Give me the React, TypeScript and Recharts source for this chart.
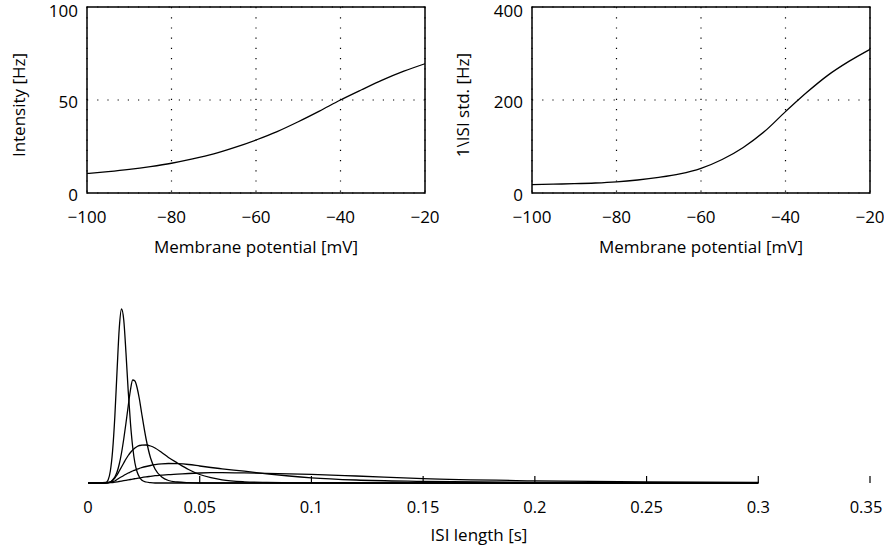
import { LineChart, Line, XAxis, YAxis, CartesianGrid, ReferenceArea, Label } from "recharts";

const FONT = "'Open Sans', sans-serif";

// membrane potential sweep [mV]
const potential = [-100, -95, -90, -85, -80, -75, -70, -65, -60, -55, -50, -45, -40, -35, -30, -25, -20];
const intensity = [10.5, 11.5, 12.7, 14.2, 16, 18.3, 21, 24.5, 28.5, 33, 38.3, 44, 50, 55.5, 60.8, 65.5, 69.5];
const isiStd = [18, 19, 20, 21.5, 24, 28, 33.5, 41, 53, 72, 98, 132, 175, 216, 253, 283, 309];

const potTicks = [-100, -80, -60, -40, -20];
const intensityTicks = [0, 50, 100];
const stdTicks = [0, 200, 400];

// ISI densities
const isiTime = [0, 0.005, 0.008, 0.009, 0.01, 0.011, 0.012, 0.013, 0.014, 0.015, 0.016, 0.017, 0.018, 0.019, 0.02, 0.021, 0.022, 0.023, 0.024, 0.026, 0.028, 0.03, 0.033, 0.036, 0.04, 0.045, 0.05, 0.055, 0.06, 0.07, 0.08, 0.09, 0.1, 0.12, 0.15, 0.2, 0.25, 0.3];
const isiA = [0, 0, 0.5, 3, 12, 32, 66, 112, 155, 174, 163, 130, 92, 60, 36, 20, 11, 6, 3, 1, 0.3, 0, 0, 0, 0, 0, 0, 0, 0, 0, 0, 0, 0, 0, 0, 0, 0, 0];
const isiB = [0, 0, 0, 0.3, 1, 3, 6, 11, 19, 30, 44, 60, 77, 93, 103, 102, 95, 84, 70, 44, 25, 14, 6, 2.5, 1, 0.3, 0, 0, 0, 0, 0, 0, 0, 0, 0, 0, 0, 0];
const isiC = [0, 0, 0.2, 0.5, 1, 2.5, 5, 8, 12, 16, 20, 24, 27.5, 30.5, 33, 35, 36.5, 37.5, 37.8, 38, 37, 35, 30.5, 25.5, 20, 13.5, 8.5, 5.3, 3.2, 1.2, 0.5, 0.2, 0.1, 0, 0, 0, 0, 0];
const isiD = [0, 0, 0.2, 0.5, 1, 1.5, 2, 3.5, 5, 6.2, 7.5, 8.8, 10, 11, 12, 12.9, 13.8, 14.6, 15.3, 16.5, 17.5, 18.3, 19.1, 19.5, 19.3, 18.5, 17, 15.5, 14.2, 11.8, 9.2, 7, 5.2, 3, 1.6, 0.5, 0.15, 0.05];
const isiE = [0, 0, 0.1, 0.2, 0.3, 0.5, 0.8, 1.1, 1.5, 1.9, 2.3, 2.7, 3.1, 3.5, 3.9, 4.3, 4.7, 5, 5.4, 6.1, 6.7, 7.3, 7.8, 8.3, 8.8, 9.5, 10, 10.3, 10.4, 10.1, 9.6, 9.1, 8.6, 7, 4.3, 2.2, 1.1, 0.6];
const isiTicks = [0, 0.05, 0.1, 0.15, 0.2, 0.25, 0.3, 0.35];

const potRows = potential.map((v, i) => ({ v, intensity: intensity[i], std: isiStd[i] }));
const isiRows = isiTime.map((t, i) => ({ t, a: isiA[i], b: isiB[i], c: isiC[i], d: isiD[i], e: isiE[i] }));

const minus = (v: number) => String(v).replace("-", "\u2212");

const PotTick = ({ x, y, payload }: any) => (
  <text x={x} y={y + 30} textAnchor="middle" fontSize={17} fontFamily={FONT} fill="#000">
    {minus(payload.value)}
  </text>
);

const ValTick = ({ x, y, payload }: any) => (
  <text x={x} y={y + 8} textAnchor="end" fontSize={17} fontFamily={FONT} fill="#000">
    {payload.value}
  </text>
);

const IsiTick = ({ x, y, payload }: any) => (
  <g>
    {payload.value > 0 && <line x1={x} x2={x} y1={y - 7} y2={y} stroke="#000" strokeWidth={1.2} />}
    <text x={Math.min(x, 866)} y={y + 30} textAnchor="middle" fontSize={16.5} fontFamily={FONT} fill="#000">
      {String(payload.value)}
    </text>
  </g>
);

const title = (text: string, x: number, y: number, rotate = false) => () => (
  <text
    x={x}
    y={y}
    textAnchor="middle"
    fontSize={17}
    fontFamily={FONT}
    fill="#000"
    transform={rotate ? `rotate(-90 ${x} ${y})` : undefined}
  >
    {text}
  </text>
);

function PotChart({ dataKey, ticks, yTitle, left, yTitleX }: any) {
  const max = ticks[ticks.length - 1];
  const w = left === 0 ? 440 : 444;
  const ml = left === 0 ? 27 : 32;
  const mr = left === 0 ? 15 : 14;
  return (
    <div style={{ position: "absolute", left, top: 0 }}>
      <LineChart width={w} height={260} data={potRows} margin={{ top: 7, right: mr, bottom: 0, left: ml }}>
        <CartesianGrid stroke="#000" strokeWidth={1.2} strokeDasharray="1.2 9" horizontalValues={ticks} verticalValues={potTicks} />
        <XAxis dataKey="v" type="number" domain={[-100, -20]} ticks={potTicks} axisLine={false} tickLine={false} tickSize={0} tickMargin={0} height={67} tick={<PotTick />}>
          <Label content={title("Membrane potential [mV]", (w - mr + ml + 60) / 2, 253)} />
        </XAxis>
        <YAxis type="number" domain={[0, max]} ticks={ticks} axisLine={false} tickLine={false} tickSize={0} tickMargin={9} width={60} tick={<ValTick />}>
          <Label content={title(yTitle, yTitleX, 105, true)} />
        </YAxis>
        <ReferenceArea x1={-100} x2={-20} y1={0} y2={max} fill="none" stroke="#000" strokeWidth={1.5} />
        <Line dataKey={dataKey} type="monotone" stroke="#000" strokeWidth={1.3} dot={false} isAnimationActive={false} />
      </LineChart>
    </div>
  );
}

export default function App() {
  const keys = ["a", "b", "c", "d", "e"];
  return (
    <div style={{ position: "absolute", left: 0, top: 0, width: 884, height: 552, background: "#fff", fontFamily: FONT }}>
      <PotChart dataKey="intensity" ticks={intensityTicks} yTitle="Intensity [Hz]" left={0} yTitleX={25} />
      <PotChart dataKey="std" ticks={stdTicks} yTitle="1\ISI std. [Hz]" left={440} yTitleX={29} />
      <div style={{ position: "absolute", left: 0, top: 280 }}>
        <LineChart width={884} height={272} data={isiRows} margin={{ top: 23, right: 14, bottom: 0, left: 88 }}>
          <XAxis dataKey="t" type="number" domain={[0, 0.35]} ticks={isiTicks} axisLine={false} tickLine={false} tickSize={0} tickMargin={0} height={69} tick={<IsiTick />}>
            <Label content={title("ISI length [s]", 479, 261)} />
          </XAxis>
          <YAxis hide type="number" domain={[0, 180]} />
          {keys.map((k) => (
            <Line key={k} dataKey={k} type="monotone" stroke="#000" strokeWidth={1.3} dot={false} isAnimationActive={false} />
          ))}
        </LineChart>
      </div>
    </div>
  );
}
